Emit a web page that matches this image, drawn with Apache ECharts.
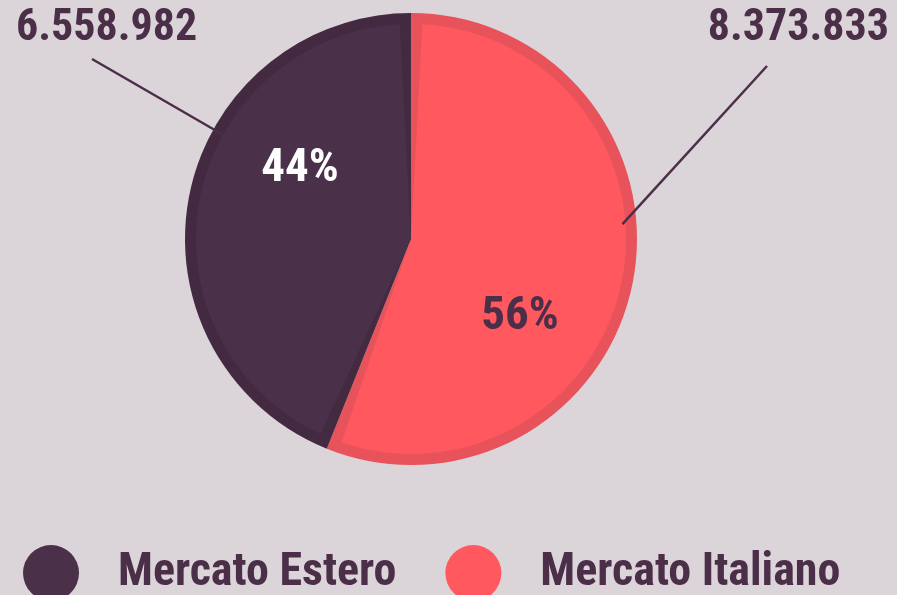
<!DOCTYPE html>
<html>
<head>
<meta charset="utf-8">
<title>Mercato</title>
<script src="https://cdn.jsdelivr.net/npm/echarts@6/dist/echarts.min.js"></script>
<style>
  html, body { margin: 0; padding: 0; background: #dbd5da; }
  #chart { width: 897px; height: 595px; }
</style>
</head>
<body>
<div id="chart"></div>
<script>
// dati
const categories = ["Mercato Italiano", "Mercato Estero"];
const values = [8373833, 6558982];
const legendOrder = ["Mercato Estero", "Mercato Italiano"];

const fillColors = ["#ff585e", "#4a3049"];
const borderColors = ["#e8535b", "#432a41"];
const pctColors = ["#4b2e48", "#ffffff"];
const textColor = "#4b2e48";
// Roboto con font-stretch condensed
const font = "Roboto";
const weight = "bold condensed";

const center = [411, 239];
const R = 226;

// posizioni etichette
const pctPos = [[520, 317], [300, 169]];
const valuePos = [
  { x: 889, y: 29, align: "right", rimAngle: 4, end: [767, 66] },
  { x: 16, y: 29, align: "left", rimAngle: 151, end: [92, 59] },
];

function fmt(v) {
  return String(v).replace(/\B(?=(\d{3})+(?!\d))/g, ".");
}

const chart = echarts.init(document.getElementById("chart"));

const option = {
  backgroundColor: "#dbd5da",
  animation: false,
  legend: {
    data: legendOrder,
    left: 18,
    top: 540,
    width: 877,
    icon: "circle",
    itemWidth: 56,
    itemHeight: 56,
    itemGap: 49,
    textStyle: {
      color: textColor,
      fontSize: 46,
      fontWeight: weight,
      fontFamily: font,
      padding: [10, 0, 0, 34],
    },
  },
  series: [
    {
      // riempimento
      type: "pie",
      z: 3,
      center: center,
      radius: [0, R - 11],
      startAngle: 90,
      padAngle: 6,
      minAngle: 0,
      data: categories.map((c, i) => ({
        name: c,
        value: values[i],
        itemStyle: { color: fillColors[i] },
        label: { color: pctColors[i] },
      })),
      label: {
        show: true,
        position: "inside",
        formatter: (p) => Math.round(p.percent) + "%",
        fontSize: 47,
        fontWeight: weight,
        fontFamily: font,
      },
      labelLayout: (p) => ({
        x: pctPos[p.dataIndex][0],
        y: pctPos[p.dataIndex][1],
        align: "center",
        verticalAlign: "middle",
      }),
      emphasis: { disabled: true },
    },
    {
      // bordo
      type: "pie",
      z: 2,
      center: center,
      radius: [0, R],
      startAngle: 90,
      silent: true,
      data: categories.map((c, i) => ({
        name: c,
        value: values[i],
        itemStyle: { color: borderColors[i] },
      })),
      label: { show: false },
      labelLine: { show: false },
      emphasis: { disabled: true },
    },
    {
      // etichette valori
      type: "pie",
      z: 4,
      center: center,
      radius: [0, R],
      startAngle: 90,
      silent: true,
      itemStyle: { color: "rgba(0,0,0,0)" },
      data: categories.map((c, i) => ({ name: c, value: values[i] })),
      label: {
        show: true,
        position: "outside",
        overflow: "none",
        formatter: (p) => fmt(p.value),
        color: textColor,
        fontSize: 44,
        fontWeight: weight,
        fontFamily: font,
      },
      labelLine: {
        show: true,
        length: 20,
        length2: 0,
        lineStyle: { color: textColor, width: 2.5 },
      },
      labelLayout: (p) => {
        const cfg = valuePos[p.dataIndex];
        const a = (cfg.rimAngle * Math.PI) / 180;
        const start = [center[0] + (R - 14) * Math.cos(a), center[1] - (R - 14) * Math.sin(a)];
        return {
          x: cfg.x,
          y: cfg.y,
          align: cfg.align,
          verticalAlign: "middle",
          labelLinePoints: [start, cfg.end, cfg.end],
        };
      },
      emphasis: { disabled: true },
    },
  ],
};

chart.setOption(option);
</script>
</body>
</html>
